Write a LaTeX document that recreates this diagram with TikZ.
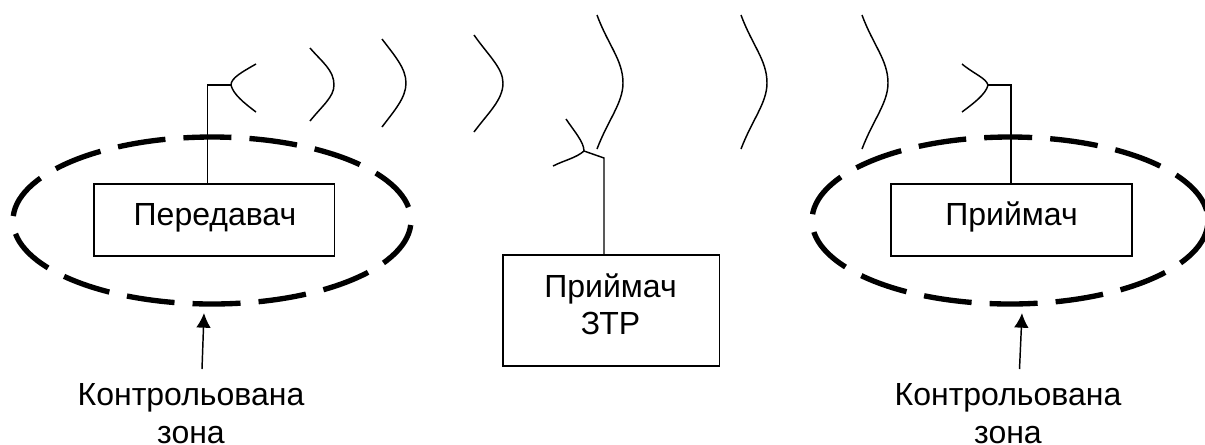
\documentclass[tikz,border=0pt]{standalone}
\usepackage{fontspec}
\setmainfont{Liberation Sans}
\usetikzlibrary{arrows.meta}

\tikzset{
    blockbox/.style={draw, line width=1.1pt, inner sep=0pt},
    labeltext/.style={font=\fontsize{24}{28}\selectfont, align=center, inner sep=0pt},
    thinline/.style={line width=1.1pt},
    zoneline/.style={line width=4pt, dash pattern=on 36pt off 13.55pt, dash phase=46.15pt},
    pointer/.style={line width=1.1pt, -{Latex[length=11pt, width=11pt]}}
}

\begin{document}
\begin{tikzpicture}[x=0.75pt, y=-0.75pt]
        \useasboundingbox (0, 0) rectangle (1205, 444);

        \begin{scope}
            % blocks
            \node[blockbox, minimum width=180.5pt, minimum height=54pt] (sender) at (214.25, 220) {};
            \node[blockbox, minimum width=180.75pt, minimum height=54pt] (receiver) at (1011.5, 220) {};
            \node[blockbox, minimum width=162.4pt, minimum height=83.25pt] (tapper) at (611.25, 310.5) {};

            \node[labeltext, anchor=base] (sendertext) at (215, 225) {Передавач};
            \node[labeltext, anchor=base] (receivertext) at (1011.5, 225) {Приймач};
            \node[labeltext] (tappertext) at (610.5, 304) {Приймач\\ЗТР};

            % controlled zones
            \draw[zoneline] (212, 220.5) ellipse [x radius=199, y radius=83.5];
            \draw[zoneline] (1010, 220.5) ellipse [x radius=198, y radius=83.5];

            % antennas
            \coordinate (senderstem) at (207.5, 184);
            \coordinate (senderfeed) at (231, 85);
            \draw[thinline] (senderstem) |- (senderfeed);
            \draw[thinline] (256, 64) .. controls (242, 72) and (231, 78) .. (senderfeed) .. controls (233, 94) and (244, 103) .. (256, 112);

            \coordinate (receiverstem) at (1011, 184);
            \coordinate (receiverfeed) at (988, 85);
            \draw[thinline] (receiverstem) |- (receiverfeed);
            \draw[thinline] (962, 64) .. controls (974, 74) and (986, 78) .. (receiverfeed) .. controls (986, 94) and (974, 103) .. (962, 112);

            \coordinate (tapperstem) at (604, 255);
            \coordinate (tapperbend) at (604, 158);
            \coordinate (tapperfeed) at (584, 151);
            \draw[thinline] (tapperstem) -- (tapperbend) -- (tapperfeed);
            \draw[thinline] (566, 119) .. controls (574, 131) and (584, 142) .. (tapperfeed) .. controls (576, 158) and (565, 160) .. (553, 166);

            % waves
            \draw[thinline] (310, 48) .. controls (322, 62) and (334, 70) .. (334, 85) .. controls (334, 97) and (322, 106) .. (310, 121);
            \draw[thinline] (382, 39) .. controls (394, 55) and (406, 68) .. (406, 83) .. controls (406, 98) and (394, 111) .. (382, 127);
            \draw[thinline] (474, 35) .. controls (488, 55) and (503, 68) .. (503, 83) .. controls (503, 100) and (488, 113) .. (474, 132);
            \draw[thinline] (597, 15) .. controls (608, 45) and (623, 60) .. (623, 83) .. controls (623, 103) and (608, 120) .. (597, 149);
            \draw[thinline] (741, 15) .. controls (752, 45) and (767, 60) .. (767, 83) .. controls (767, 103) and (752, 120) .. (741, 149);
            \draw[thinline] (862, 15) .. controls (873, 45) and (888, 60) .. (888, 83) .. controls (888, 103) and (873, 120) .. (862, 149);

            % zone labels
            \node[labeltext] (zoneleft) at (191, 413.5) {Контрольована\\зона};
            \node[labeltext] (zoneright) at (1008, 413.5) {Контрольована\\зона};

            \coordinate (zonelefttip) at (204, 313);
            \coordinate (zonerighttip) at (1022, 313);
            \draw[pointer] (202, 369) -- (zonelefttip);
            \draw[pointer] (1019.5, 369) -- (zonerighttip);
        \end{scope}

    \end{tikzpicture}
\end{document}
